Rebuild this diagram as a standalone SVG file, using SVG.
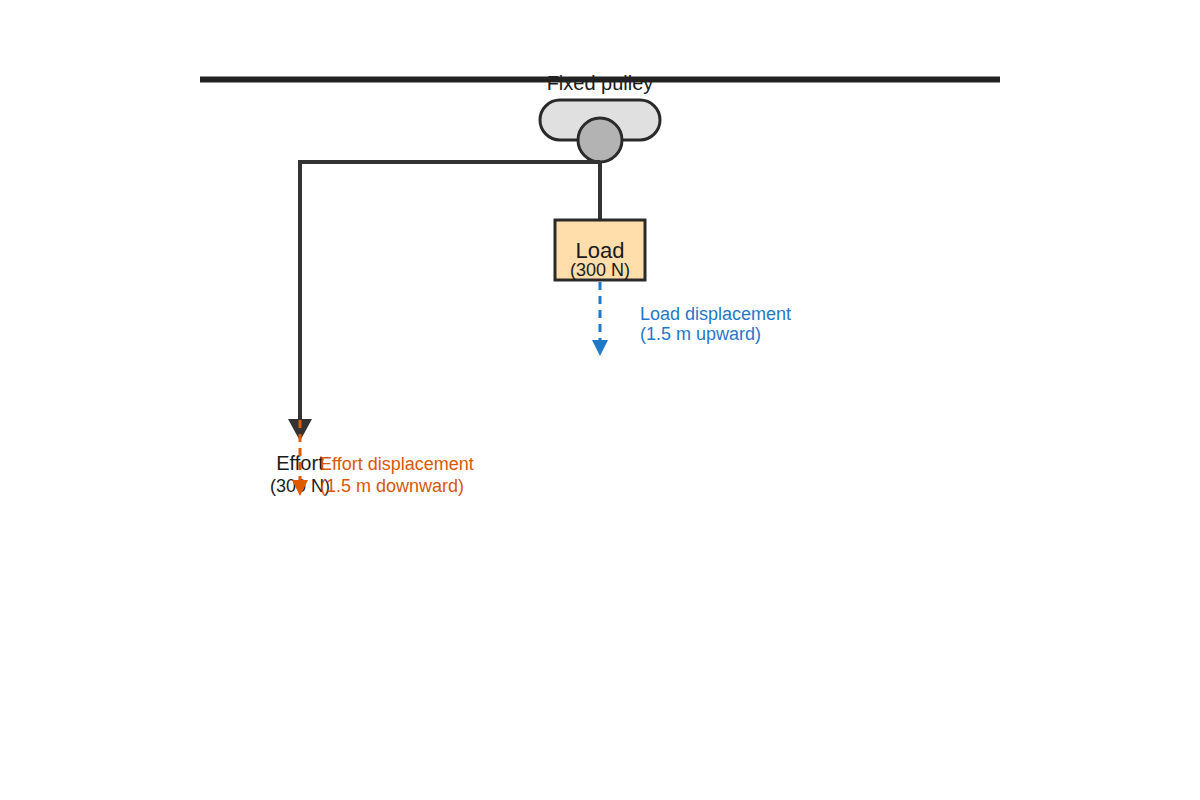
<svg xmlns="http://www.w3.org/2000/svg" width="1200" height="800" viewBox="0 0 1200 800">
<style>
text{font-family:"Liberation Sans",Arial,sans-serif}
.k{fill:#1a1a1a}
.rope{stroke:#333;stroke-width:4;fill:none}
</style>
<rect width="1200" height="800" fill="#fff"/>
<g id="pulley">
<text x="600" y="90" font-size="20" text-anchor="middle" class="k">Fixed pulley</text>
<line x1="200" y1="79.5" x2="1000" y2="79.5" stroke="#222" stroke-width="6"/>
<rect x="540" y="100" width="120" height="40" rx="20" fill="#e0e0e0" stroke="#2a2a2a" stroke-width="3"/>
<circle cx="600" cy="140" r="22" fill="#b3b3b3" stroke="#2a2a2a" stroke-width="3"/>
</g>
<g id="connectors">
<polyline class="rope" points="600,162 300,162 300,420"/>
<line class="rope" x1="600" y1="162" x2="600" y2="220"/>
<path d="M288,419 L312,419 L300,441 Z" fill="#333"/>
<line x1="600" y1="282" x2="600" y2="342" stroke="#1f78c8" stroke-width="3" stroke-dasharray="8,6"/>
<path d="M592,340 L608,340 L600,356 Z" fill="#1f78c8"/>
</g>
<g id="load">
<rect x="555" y="220" width="90" height="60" fill="#ffdeac" stroke="#2a2a2a" stroke-width="3"/>
<text x="600" y="258" font-size="22" text-anchor="middle" class="k">Load</text>
<text x="600" y="276" font-size="18" text-anchor="middle" class="k">(300 N)</text>
</g>
<g id="load-disp">
<text x="640" y="320" font-size="18" fill="#1f78c8">Load displacement</text>
<text x="640" y="340" font-size="18" fill="#1f78c8">(1.5 m upward)</text>
</g>
<g id="effort">
<text x="300" y="470" font-size="20" text-anchor="middle" class="k">Effort</text>
<text x="300" y="492" font-size="18" text-anchor="middle" class="k">(300 N)</text>
</g>
<g id="effort-disp">
<line x1="300" y1="420" x2="300" y2="482" stroke="#e05a00" stroke-width="3" stroke-dasharray="8,6"/>
<path d="M292,480 L308,480 L300,496 Z" fill="#e05a00"/>
<text x="320" y="470" font-size="18" fill="#d9570a">Effort displacement</text>
<text x="320" y="492" font-size="18" fill="#d9570a">(1.5 m downward)</text>
</g>
</svg>
